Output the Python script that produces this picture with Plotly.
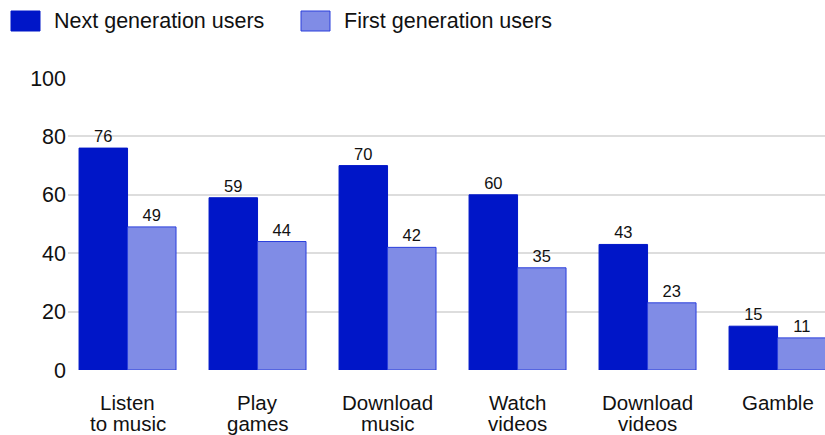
import plotly.graph_objects as go

categories = ["Listen<br>to music", "Play<br>games", "Download<br>music", "Watch<br>videos", "Download<br>videos", "Gamble"]
next_gen_name = "Next generation users"
first_gen_name = "First generation users"
next_gen = [76, 59, 70, 60, 43, 15]
first_gen = [49, 44, 42, 35, 23, 11]
y_ticks = [0, 20, 40, 60, 80, 100]

dark = "#0016c8"
light = "#808ce6"
light_edge = "#2a3fdc"
font = "Liberation Sans, Arial, sans-serif"
big = 20.5

# plot area in pixels (left, right, top, bottom)
PL, PR, PT, PB = 68, 825, 78, 370
def px(xp):
    return (xp - PL) / (PR - PL)
def py(yp):
    return (PB - yp) / (PB - PT)

x = list(range(len(categories)))

fig = go.Figure()
fig.add_trace(go.Bar(
    x=x, y=next_gen, name=next_gen_name,
    marker=dict(color=dark, line=dict(color=dark, width=1)),
    text=next_gen, textposition="outside", cliponaxis=False,
    textfont=dict(size=16.5, color="#111"), showlegend=False,
))
fig.add_trace(go.Bar(
    x=x, y=first_gen, name=first_gen_name,
    marker=dict(color=light, line=dict(color=light_edge, width=1)),
    text=first_gen, textposition="outside", cliponaxis=False,
    textfont=dict(size=16.5, color="#111"), showlegend=False,
))

shapes = []
annotations = []

# legend with wide swatches
legend_items = [(next_gen_name, dark, dark, 11), (first_gen_name, light, light_edge, 301)]
for name, fill, edge, x0 in legend_items:
    shapes.append(dict(type="rect", xref="paper", yref="paper",
                       x0=px(x0), x1=px(x0 + 29), y0=py(31), y1=py(11),
                       fillcolor=fill, line=dict(color=edge, width=1)))
    annotations.append(dict(text=name, xref="paper", yref="paper",
                            x=px(x0 + 41), y=py(21),
                            xanchor="left", yanchor="middle", showarrow=False,
                            font=dict(size=21.5, color="#111", family=font)))

# category labels, one annotation per line for tight line spacing
line_y = [403, 423]
for xi, label in zip(x, categories):
    for li, part in enumerate(label.split("<br>")):
        annotations.append(dict(text=part, xref="x", yref="paper",
                                x=xi, y=py(line_y[li]),
                                xanchor="center", yanchor="middle", showarrow=False,
                                font=dict(size=big, color="#111", family=font)))

fig.update_layout(
    width=825, height=435,
    margin=dict(l=PL, r=825 - PR, t=PT, b=435 - PB),
    paper_bgcolor="white", plot_bgcolor="white",
    barmode="group", bargap=0.254, bargroupgap=0.0,
    font=dict(family=font, color="#111"),
    shapes=shapes, annotations=annotations,
    xaxis=dict(
        tickmode="array", tickvals=x, showticklabels=False,
        range=[-0.458, 5.365], showgrid=False, zeroline=False,
        showline=False, ticks="",
    ),
    yaxis=dict(
        range=[0, 100], tickvals=y_ticks, showgrid=True,
        gridcolor="#dddddd", gridwidth=1.5, zeroline=False, showline=False,
        ticks="", tickfont=dict(size=21.5), ticklabelstandoff=1,
    ),
)

fig.write_html("out.html")
